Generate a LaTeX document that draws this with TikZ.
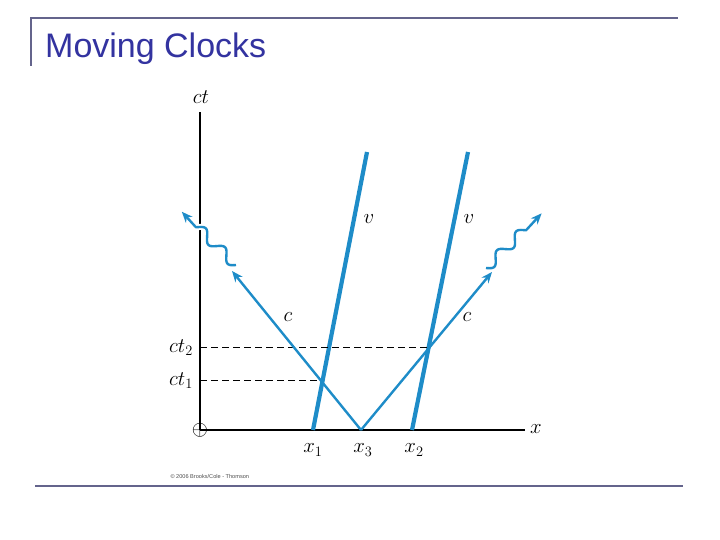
\documentclass[tikz,border=0pt]{standalone}
\usepackage{fontspec}
\setmainfont{Liberation Serif}
\setsansfont{Liberation Sans}
\usepackage{amsmath}
\usepackage{xcolor}
\usepackage{tikz}
\usetikzlibrary{positioning,arrows.meta}

\definecolor{rayblue}{RGB}{30,140,200}
\definecolor{framegray}{RGB}{100,100,140}
\definecolor{titleblue}{RGB}{51,51,160}

\begin{document}
\begin{tikzpicture}[x=1pt,y=-1pt,
	axis/.style={draw=black, line width=1.5},
	worldline/.style={draw=rayblue, line width=4.2},
	ray/.style={draw=rayblue, line width=2.4, -{Stealth[length=11,width=9]}},
	photon/.style={draw=rayblue, line width=2.4, line join=round, -{Stealth[length=11,width=9]},
		preaction={draw=white, line width=6, -}},
	level/.style={draw=black, line width=0.9, dash pattern=on 7pt off 4pt},
	lbl/.style={font=\fontsize{20}{22}\selectfont}]
	\useasboundingbox (0,0) rectangle (720,540);
	% frame and title
	\draw[framegray, line width=2.5] (31,66) -- (31,18) -- (678,18);
	\draw[framegray, line width=2.5] (35,486) -- (683,486);
	\node[anchor=base west, text=titleblue, inner sep=0pt, font=\sffamily\fontsize{34}{38}\selectfont] (title) at (45,58) {Moving Clocks};
	% axes
	\coordinate (O) at (200,430);
	\coordinate (ctTop) at (200,112);
	\coordinate (xEnd) at (525,430);
	\draw[axis] (O) -- (ctTop);
	\draw[axis] (O) -- (xEnd);
	\node[lbl] (ctlab) at (201,97) {$ct$};
	\node[lbl] (xlab) at (536,429) {$x$};
	\node[font=\fontsize{21}{22}\selectfont] (origin) at (200,430) {$\oplus$};
	% world lines of the clocks
	\coordinate (x1) at (313,430);
	\coordinate (x2) at (412,430);
	\coordinate (x3) at (361,430);
	\coordinate (v1) at (367,152);
	\coordinate (v2) at (468,152);
	\draw[worldline] (x1) -- (v1);
	\draw[worldline] (x2) -- (v2);
	% events
	\coordinate (E1) at (320,380);
	\coordinate (E2) at (428,347);
	\coordinate (t1) at (200,380);
	\coordinate (t2) at (200,347);
	\draw[level] (t2) -- (E2);
	\draw[level] (t1) -- (E1);
	% light
	\coordinate (rL) at (232,271);
	\coordinate (rR) at (492,272);
	\draw[ray] (x3) -- (rL);
	\draw[ray] (x3) -- (rR);
	% wave packets
	\begin{scope}[shift={(236,265)}, rotate=135.5]
		\draw[photon] plot[domain=0:55, samples=50, smooth, variable=\t] (\t, {-5*sin(\t*13.333)}) -- (76,0);
	\end{scope}
	\begin{scope}[shift={(486,268)}, rotate=44.5]
		\draw[photon] plot[domain=0:55, samples=50, smooth, variable=\t] (\t, {5*sin(\t*13.333)}) -- (78,0);
	\end{scope}
	% labels
	\node[lbl] (ct2) at (181,348) {$ct_2$};
	\node[lbl] (ct1) at (181,381) {$ct_1$};
	\node[lbl] (c1) at (288,317) {$c$};
	\node[lbl] (c2) at (467,317) {$c$};
	\node[lbl] (vl1) at (369,219) {$v$};
	\node[lbl] (vl2) at (469,219) {$v$};
	\node[lbl] (x1lab) at (313,450) {$x_1$};
	\node[lbl] (x3lab) at (363,450) {$x_3$};
	\node[lbl] (x2lab) at (414,450) {$x_2$};
	\node[anchor=west, font=\sffamily\fontsize{5.6}{6}\selectfont, text=black!70] (copy) at (167,476) {\textcopyright\ 2006 Brooks/Cole - Thomson};
\end{tikzpicture}
\end{document}
